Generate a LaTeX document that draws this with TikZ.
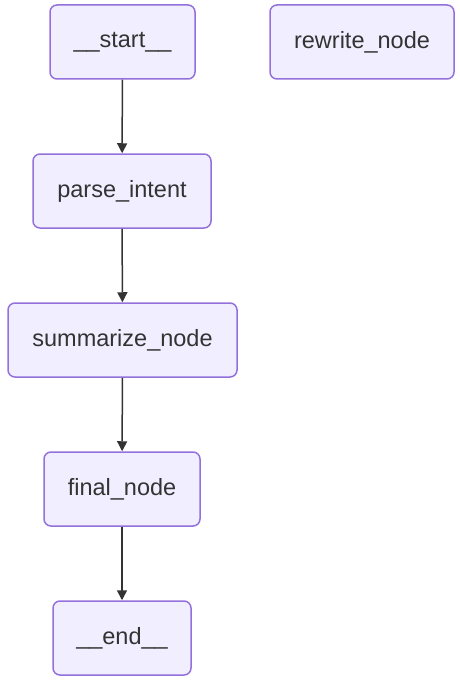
\documentclass[tikz,border=0pt]{standalone}
\usepackage{fontspec}
\setmainfont{Liberation Sans}
\usetikzlibrary{arrows.meta}
\definecolor{nodefill}{HTML}{F1EFFF}
\definecolor{nodeline}{HTML}{9370DB}
\definecolor{txt}{HTML}{333333}
\begin{document}
\begin{tikzpicture}[x=1pt,y=-1pt,
  gnode/.style={draw=nodeline,fill=nodefill,line width=1.5pt,rounded corners=7pt,
    minimum height=74pt,inner sep=0pt,text=txt,font=\fontsize{23.5}{28}\selectfont},
  flow/.style={draw=txt,line width=1.5pt,-{Triangle[length=10pt,width=10pt]}}]
\useasboundingbox (0,0) rectangle (459,682);
\node[gnode,minimum width=145pt] (start) at (122.5,42) {\_\_start\_\_};
\node[gnode,minimum width=184pt] (rewrite) at (362,42) {rewrite\_node};
\node[gnode,minimum width=178pt] (parse) at (122,191) {parse\_intent};
\node[gnode,minimum width=229pt] (summ) at (122.5,340) {summarize\_node};
\node[gnode,minimum width=156pt] (final) at (122,489) {final\_node};
\node[gnode,minimum width=138pt] (end) at (122,638) {\_\_end\_\_};
\draw[flow] (start) -- (parse);
\draw[flow] (parse) -- (summ);
\draw[flow] (summ) -- (final);
\draw[flow] (final) -- (end);
\end{tikzpicture}
\end{document}
